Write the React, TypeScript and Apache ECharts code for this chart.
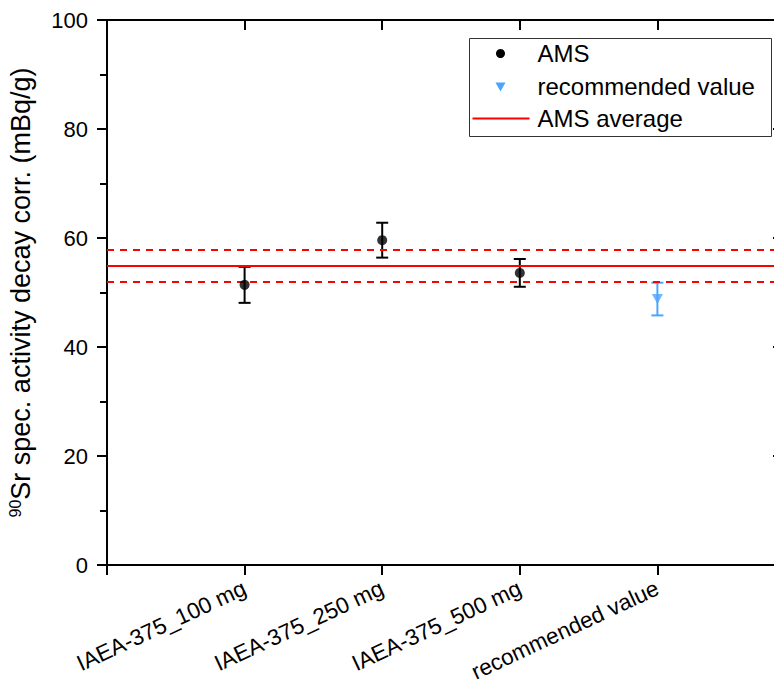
import React, { useEffect, useRef } from "react";
import * as echarts from "echarts";

// Sample categories along the x axis (positions 1..4)
const categories = ["IAEA-375_100 mg", "IAEA-375_250 mg", "IAEA-375_500 mg", "recommended value"];

// AMS measurements (mBq/g) with their uncertainties
const amsPositions = [1, 2, 3];
const amsValues = [51.4, 59.6, 53.6];
const amsErrors = [3.3, 3.2, 2.55];

// Reference value with its uncertainty
const recommendedPositions = [4];
const recommendedValues = [48.8];
const recommendedErrors = [3.0];

// AMS average and its uncertainty band
const amsAverage = [54.9];
const amsAverageBand = [51.9, 57.9];

// Y axis ticks
const yTicks = [0, 20, 40, 60, 80, 100];

const FONT = "'Liberation Sans', Arial, sans-serif";
const BLUE = "#4aa5ff";
const RED = "#ff0000";

function errorBarSeries(name: string, pos: number[], vals: number[], errs: number[], color: string) {
  return {
    type: "custom",
    name,
    silent: true,
    data: pos.map((p, i) => [p, vals[i], errs[i]]),
    encode: { x: 0, y: 1 },
    renderItem: (params: any, api: any) => {
      const x = api.value(0);
      const y = api.value(1);
      const e = api.value(2);
      const top = api.coord([x, y + e]);
      const bot = api.coord([x, y - e]);
      const hw = 6;
      const style = { stroke: color, lineWidth: 2 };
      return {
        type: "group",
        children: [
          { type: "line", shape: { x1: top[0], y1: top[1], x2: bot[0], y2: bot[1] }, style },
          { type: "line", shape: { x1: top[0] - hw, y1: top[1], x2: top[0] + hw, y2: top[1] }, style },
          { type: "line", shape: { x1: bot[0] - hw, y1: bot[1], x2: bot[0] + hw, y2: bot[1] }, style },
        ],
      };
    },
  };
}

export default function App() {
  const ref = useRef<HTMLDivElement>(null);

  useEffect(() => {
    if (!ref.current) return;
    const chart = echarts.init(ref.current, null, { renderer: "svg" });
    const xMax = 4.92;
    const axisLineStyle = { color: "#000", width: 2 };

    chart.setOption({
      animation: false,
      backgroundColor: "#fff",
      textStyle: { fontFamily: FONT },
      grid: {
        left: 107,
        top: 20,
        bottom: 119,
        right: -10,
        containLabel: false,
        outerBoundsMode: "none",
      },
      xAxis: [
        {
          type: "value",
          min: 0,
          max: xMax,
          interval: 1,
          position: "bottom",
          axisLine: { show: true, onZero: false, lineStyle: axisLineStyle },
          axisTick: { show: true, inside: false, length: 10, lineStyle: { width: 2, color: "#000" } },
          splitLine: { show: false },
          axisLabel: {
            rotate: 25,
            margin: 22,
            fontSize: 22.5,
            color: "#000",
            fontFamily: FONT,
            showMaxLabel: false,
            formatter: (v: number) => (Number.isInteger(v) && categories[v - 1]) || "",
          },
        },
        {
          type: "value",
          min: 0,
          max: xMax,
          interval: 1,
          position: "top",
          axisLine: { show: true, onZero: false, lineStyle: axisLineStyle },
          axisTick: { show: true, inside: true, length: 10, lineStyle: { width: 2, color: "#000" } },
          splitLine: { show: false },
          axisLabel: { show: false },
        },
      ],
      yAxis: [
        {
          type: "value",
          min: yTicks[0],
          max: yTicks[yTicks.length - 1],
          interval: 20,
          position: "left",
          name: "{sup|90}Sr spec. activity decay corr. (mBq/g)",
          nameLocation: "middle",
          nameRotate: 90,
          nameGap: 72,
          nameTextStyle: {
            fontSize: 27,
            color: "#000",
            fontFamily: FONT,
            rich: {
              sup: { fontSize: 16, color: "#000", fontFamily: FONT, padding: [0, 0, 12, 0] },
            },
          },
          axisLine: { show: true, onZero: false, lineStyle: axisLineStyle },
          axisTick: { show: true, inside: false, length: 10, lineStyle: { width: 2, color: "#000" } },
          minorTick: { show: true, splitNumber: 2, length: 7, lineStyle: { width: 2, color: "#000" } },
          splitLine: { show: false },
          axisLabel: { fontSize: 22, color: "#000", margin: 19, fontFamily: FONT },
        },
        {
          type: "value",
          min: yTicks[0],
          max: yTicks[yTicks.length - 1],
          interval: 20,
          position: "right",
          axisLine: { show: true, onZero: false, lineStyle: axisLineStyle },
          axisTick: { show: true, inside: true, length: 11, lineStyle: { width: 2, color: "#000" } },
          splitLine: { show: false },
          axisLabel: { show: false },
        },
      ],
      series: [
        {
          type: "line",
          name: "AMS average",
          data: [],
          silent: true,
          markLine: {
            silent: true,
            symbol: "none",
            label: { show: false },
            data: [
              { yAxis: amsAverage[0], lineStyle: { color: RED, width: 2, type: "solid" } },
              { yAxis: amsAverageBand[0], lineStyle: { color: RED, width: 2, type: [7, 6] } },
              { yAxis: amsAverageBand[1], lineStyle: { color: RED, width: 2, type: [7, 6] } },
            ],
          },
        },
        errorBarSeries("AMS error", amsPositions, amsValues, amsErrors, "#000"),
        errorBarSeries("recommended error", recommendedPositions, recommendedValues, recommendedErrors, BLUE),
        {
          type: "scatter",
          name: "AMS",
          data: amsPositions.map((p, i) => [p, amsValues[i]]),
          symbol: "circle",
          symbolSize: 10,
          itemStyle: { color: "#000" },
          z: 5,
        },
        {
          type: "scatter",
          name: "recommended value",
          data: recommendedPositions.map((p, i) => [p, recommendedValues[i]]),
          symbol: "path://M0,0 L10,0 L5,9 Z",
          symbolSize: [11, 10],
          itemStyle: { color: BLUE },
          z: 5,
        },
      ],
      graphic: [
        {
          type: "group",
          left: 469,
          top: 38,
          children: [
            {
              type: "rect",
              shape: { x: 0, y: 0, width: 302, height: 98 },
              style: { fill: "#fff", stroke: "#333", lineWidth: 1 },
            },
            { type: "circle", shape: { cx: 31, cy: 15, r: 4.5 }, style: { fill: "#000" } },
            {
              type: "polygon",
              shape: { points: [[26, 44], [36, 44], [31, 53]] },
              style: { fill: BLUE },
            },
            {
              type: "line",
              shape: { x1: 3, y1: 80, x2: 60, y2: 80 },
              style: { stroke: RED, lineWidth: 2 },
            },
            {
              type: "text",
              x: 68,
              y: 15,
              style: { text: "AMS", fontSize: 24, fontFamily: FONT, fill: "#000", verticalAlign: "middle" },
            },
            {
              type: "text",
              x: 68,
              y: 48,
              style: { text: "recommended value", fontSize: 24, fontFamily: FONT, fill: "#000", verticalAlign: "middle" },
            },
            {
              type: "text",
              x: 68,
              y: 80,
              style: { text: "AMS average", fontSize: 24, fontFamily: FONT, fill: "#000", verticalAlign: "middle" },
            },
          ],
        },
      ],
    });

    return () => chart.dispose();
  }, []);

  return (
    <div
      ref={ref}
      style={{ position: "absolute", left: 0, top: 0, width: 774, height: 684, background: "#fff" }}
    />
  );
}
